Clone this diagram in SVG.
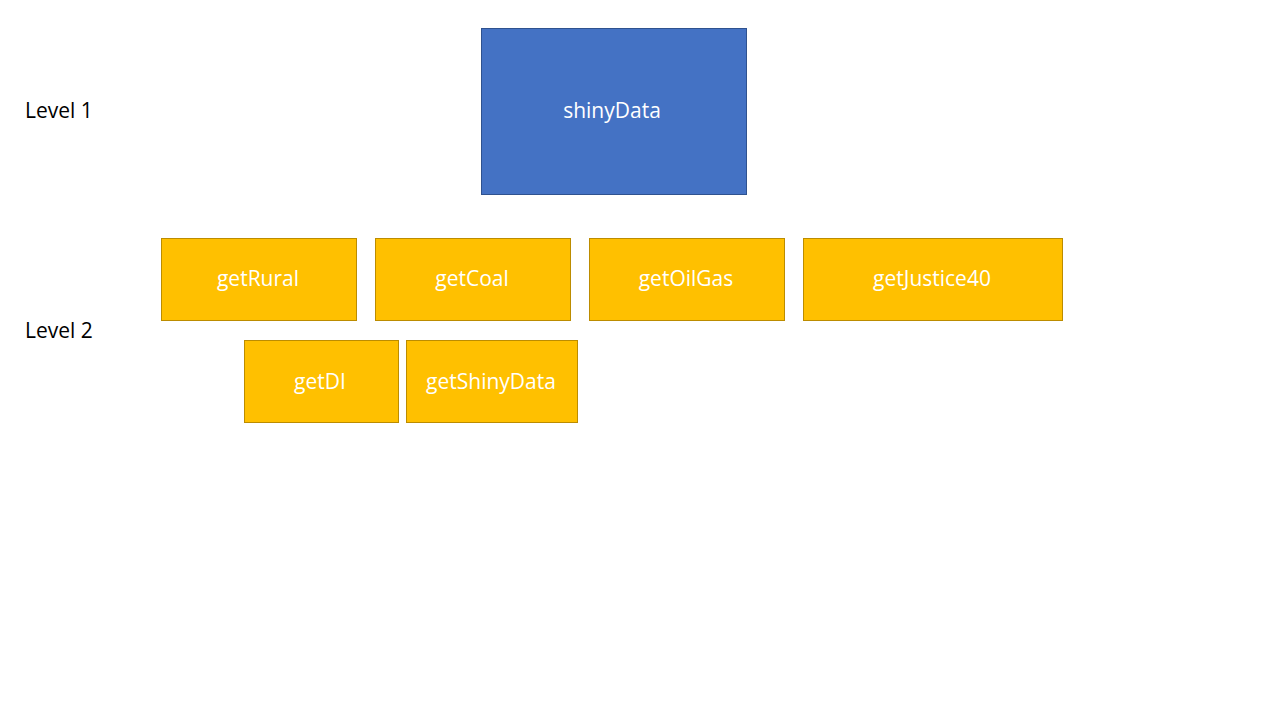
<svg xmlns="http://www.w3.org/2000/svg" width="1280" height="720" viewBox="0 0 1280 720">
<style>
text{font-family:"Open Sans","Noto Sans",sans-serif;font-size:21px;dominant-baseline:central}
.lbl{fill:#FFFFFF;text-anchor:middle}
.lvl{fill:#000000}
.blue{fill:#4472C4;stroke:#2F528F;stroke-width:1}
.gold{fill:#FFC000;stroke:#BC8C00;stroke-width:1}
</style>
<rect width="1280" height="720" fill="#FFFFFF"/>
<text class="lvl" x="25" y="110">Level 1</text>
<text class="lvl" x="25" y="330">Level 2</text>
<g id="connectors"></g>
<g id="shinyData"><rect class="blue" x="481.5" y="28.5" width="265" height="166"/><text class="lbl" x="612" y="110">shinyData</text></g>
<g id="getRural"><rect class="gold" x="161.5" y="238.5" width="195" height="82"/><text class="lbl" x="258" y="278">getRural</text></g>
<g id="getCoal"><rect class="gold" x="375.5" y="238.5" width="195" height="82"/><text class="lbl" x="472" y="278">getCoal</text></g>
<g id="getOilGas"><rect class="gold" x="589.5" y="238.5" width="195" height="82"/><text class="lbl" x="686" y="278">getOilGas</text></g>
<g id="getJustice40"><rect class="gold" x="803.5" y="238.5" width="259" height="82"/><text class="lbl" x="932" y="278">getJustice40</text></g>
<g id="getDI"><rect class="gold" x="244.5" y="340.5" width="154" height="82"/><text class="lbl" x="320" y="381">getDI</text></g>
<g id="getShinyData"><rect class="gold" x="406.5" y="340.5" width="171" height="82"/><text class="lbl" x="491" y="381">getShinyData</text></g>
</svg>
